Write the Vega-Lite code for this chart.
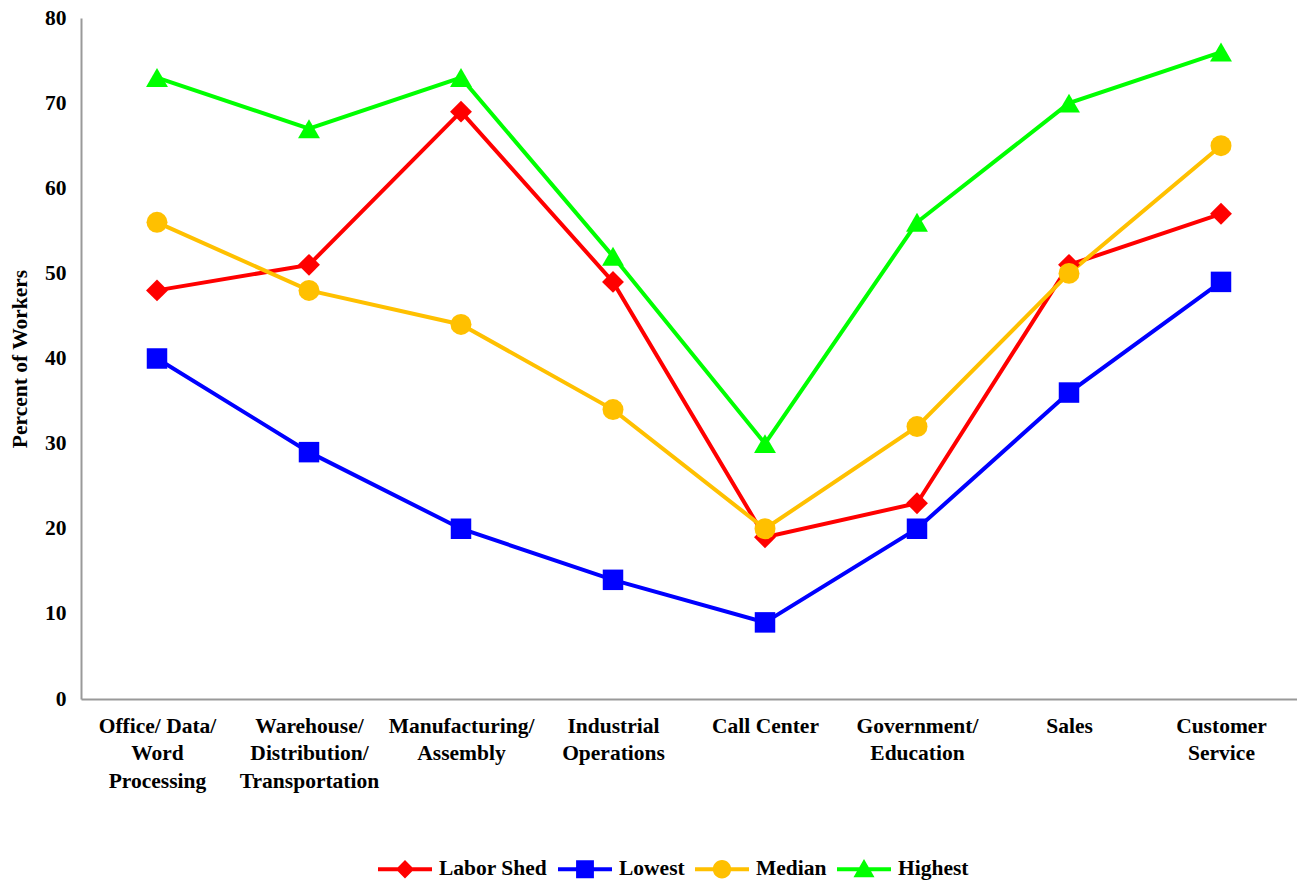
{
  "$schema": "https://vega.github.io/schema/vega-lite/v6.json",
  "width": 1216,
  "height": 681,
  "autosize": {"type": "none"},
  "padding": {"left": 81, "top": 18, "right": 0, "bottom": 183},
  "background": "white",
  "config": {"view": {"stroke": null}, "font": "Liberation Serif"},
  "data": {"values": [
    {"category": "Office/ Data/ Word Processing", "series": "Labor Shed", "value": 48},
    {"category": "Warehouse/ Distribution/ Transportation", "series": "Labor Shed", "value": 51},
    {"category": "Manufacturing/ Assembly", "series": "Labor Shed", "value": 69},
    {"category": "Industrial Operations", "series": "Labor Shed", "value": 49},
    {"category": "Call Center", "series": "Labor Shed", "value": 19},
    {"category": "Government/ Education", "series": "Labor Shed", "value": 23},
    {"category": "Sales", "series": "Labor Shed", "value": 51},
    {"category": "Customer Service", "series": "Labor Shed", "value": 57},
    {"category": "Office/ Data/ Word Processing", "series": "Lowest", "value": 40},
    {"category": "Warehouse/ Distribution/ Transportation", "series": "Lowest", "value": 29},
    {"category": "Manufacturing/ Assembly", "series": "Lowest", "value": 20},
    {"category": "Industrial Operations", "series": "Lowest", "value": 14},
    {"category": "Call Center", "series": "Lowest", "value": 9},
    {"category": "Government/ Education", "series": "Lowest", "value": 20},
    {"category": "Sales", "series": "Lowest", "value": 36},
    {"category": "Customer Service", "series": "Lowest", "value": 49},
    {"category": "Office/ Data/ Word Processing", "series": "Median", "value": 56},
    {"category": "Warehouse/ Distribution/ Transportation", "series": "Median", "value": 48},
    {"category": "Manufacturing/ Assembly", "series": "Median", "value": 44},
    {"category": "Industrial Operations", "series": "Median", "value": 34},
    {"category": "Call Center", "series": "Median", "value": 20},
    {"category": "Government/ Education", "series": "Median", "value": 32},
    {"category": "Sales", "series": "Median", "value": 50},
    {"category": "Customer Service", "series": "Median", "value": 65},
    {"category": "Office/ Data/ Word Processing", "series": "Highest", "value": 73},
    {"category": "Warehouse/ Distribution/ Transportation", "series": "Highest", "value": 67},
    {"category": "Manufacturing/ Assembly", "series": "Highest", "value": 73},
    {"category": "Industrial Operations", "series": "Highest", "value": 52},
    {"category": "Call Center", "series": "Highest", "value": 30},
    {"category": "Government/ Education", "series": "Highest", "value": 56},
    {"category": "Sales", "series": "Highest", "value": 70},
    {"category": "Customer Service", "series": "Highest", "value": 76}
  ]},
  "encoding": {
    "x": {
      "field": "category", "type": "nominal", "sort": null,
      "scale": {"type": "point", "padding": 0.5},
      "axis": {
        "title": null, "labelAngle": 0, "ticks": false,
        "domainColor": "#999999", "domainWidth": 2,
        "labelFont": "Liberation Serif", "labelFontWeight": "bold", "labelFontSize": 21.5,
        "labelColor": "black", "labelPadding": 16, "labelLineHeight": 27.5,
        "labelBaseline": "top", "labelLimit": 0,
        "labelExpr": "datum.value == 'Office/ Data/ Word Processing' ? ['Office/ Data/', 'Word', 'Processing'] : datum.value == 'Warehouse/ Distribution/ Transportation' ? ['Warehouse/', 'Distribution/', 'Transportation'] : datum.value == 'Manufacturing/ Assembly' ? ['Manufacturing/', 'Assembly'] : datum.value == 'Industrial Operations' ? ['Industrial', 'Operations'] : datum.value == 'Government/ Education' ? ['Government/', 'Education'] : datum.value == 'Customer Service' ? ['Customer', 'Service'] : datum.value"
      }
    },
    "y": {
      "field": "value", "type": "quantitative",
      "scale": {"domain": [0, 80], "nice": false},
      "axis": {
        "title": "Percent of Workers", "values": [0, 10, 20, 30, 40, 50, 60, 70, 80],
        "grid": false, "ticks": false,
        "domainColor": "#999999", "domainWidth": 2,
        "labelFont": "Liberation Serif", "labelFontWeight": "bold", "labelFontSize": 21.5,
        "labelColor": "black", "labelPadding": 15,
        "titleFont": "Liberation Serif", "titleFontWeight": "bold", "titleFontSize": 21.5,
        "titleColor": "black", "titleX": -61, "titleBaseline": "middle"
      }
    },
    "color": {
      "field": "series", "type": "nominal",
      "scale": {"domain": ["Labor Shed", "Lowest", "Median", "Highest"], "range": ["#FF0000", "#0000FF", "#FFC000", "#00FF00"]},
      "legend": {
        "title": null, "orient": "none", "legendX": 297, "legendY": 824,
        "direction": "horizontal", "symbolSize": 2916, "symbolStrokeWidth": 0,
        "labelFont": "Liberation Serif", "labelFontWeight": "bold", "labelFontSize": 21.5,
        "labelColor": "black", "labelOffset": 7, "columnPadding": 10,
        "encode": {"symbols": {"update": {
          "shape": {"signal": "datum.value == 'Labor Shed' ? 'M-1,-0.075H1V0.075H-1Z M0,-0.34L0.34,0L0,0.34L-0.34,0Z' : datum.value == 'Lowest' ? 'M-1,-0.075H1V0.075H-1Z M-0.33,-0.33H0.33V0.33H-0.33Z' : datum.value == 'Median' ? 'M-1,-0.075H1V0.075H-1Z M0.34,0A0.34,0.34,0,1,1,-0.34,0A0.34,0.34,0,1,1,0.34,0Z' : 'M-1,-0.075H1V0.075H-1Z M0,-0.38L0.39,0.3H-0.39Z'"},
          "size": {"value": 2916},
          "fill": {"signal": "scale('color', datum.value)"},
          "stroke": {"value": "transparent"},
          "opacity": {"value": 1}
        }}}
      }
    }
  },
  "layer": [
    {
      "data": {"values": [{}]},
      "mark": {"type": "rule", "color": "#999999", "strokeWidth": 2},
      "encoding": {"y": {"datum": 80}, "x": null, "color": null}
    },
    {
      "mark": {"type": "line", "strokeWidth": 4}
    },
    {
      "transform": [{"filter": "datum.series == 'Labor Shed'"}],
      "mark": {"type": "point", "filled": true, "opacity": 1, "shape": "diamond", "size": 480}
    },
    {
      "transform": [{"filter": "datum.series == 'Lowest'"}],
      "mark": {"type": "point", "filled": true, "opacity": 1, "shape": "square", "size": 420}
    },
    {
      "transform": [{"filter": "datum.series == 'Median'"}],
      "mark": {"type": "point", "filled": true, "opacity": 1, "shape": "circle", "size": 440}
    },
    {
      "transform": [{"filter": "datum.series == 'Highest'"}],
      "mark": {"type": "point", "filled": true, "opacity": 1, "shape": "triangle-up", "size": 480}
    }
  ]
}
